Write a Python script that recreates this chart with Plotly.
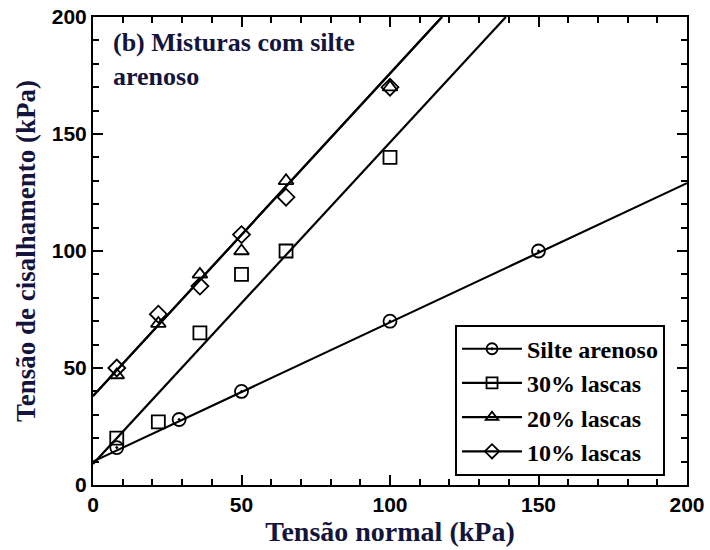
import plotly.graph_objects as go

# Data
silte_x = [8, 29, 50, 100, 150]
silte_y = [16, 28, 40, 70, 100]
l30_x = [8, 22, 36, 50, 65, 100]
l30_y = [20, 27, 65, 90, 100, 140]
l20_x = [8, 22, 36, 50, 65, 100]
l20_y = [47, 69, 90, 100, 130, 170]
l10_x = [8, 22, 36, 50, 65, 100]
l10_y = [50, 73, 85, 107, 123, 170]

# Fitted lines (end points)
fit_silte_x = [0, 200]
fit_silte_y = [10, 129]
fit_30_x = [0, 139]
fit_30_y = [9, 200]
fit_2010_x = [0, 117.5]
fit_2010_y = [38, 200]

series_names = ["Silte arenoso", "30% lascas", "20% lascas", "10% lascas"]
symbols = ["circle-open-dot", "square-open", "triangle-up-open", "diamond-open"]

fig = go.Figure()
line_style = dict(color="black", width=2.2)

series = [
    (silte_x, silte_y, fit_silte_x, fit_silte_y),
    (l30_x, l30_y, fit_30_x, fit_30_y),
    (l20_x, l20_y, fit_2010_x, fit_2010_y),
    (l10_x, l10_y, fit_2010_x, fit_2010_y),
]

for (xs, ys, fx, fy), sym, nm in zip(series, symbols, series_names):
    # fitted line (also provides the legend entry: line + symbol)
    fig.add_trace(go.Scatter(x=fx, y=fy, mode="lines+markers",
                             name="<b>" + nm + "</b>",
                             line=line_style,
                             marker=dict(symbol=sym, size=11, color="black",
                                         line=dict(width=1.8, color="black")),
                             selectedpoints=[],
                             unselected=dict(marker=dict(opacity=0)),
                             hoverinfo="skip"))
    # measured points
    fig.add_trace(go.Scatter(x=xs, y=ys, mode="markers", name=nm,
                             marker=dict(symbol=sym, size=13, color="black",
                                         line=dict(width=1.8, color="black")),
                             showlegend=False))

title_color = "#14143c"
tick_font = dict(family="Liberation Sans", size=21, color="black")

fig.update_xaxes(range=[0, 200], showline=True, linecolor="black", linewidth=2,
                 mirror="allticks", ticks="inside", ticklen=10, tickwidth=2,
                 tickcolor="black", dtick=50,
                 minor=dict(ticks="inside", ticklen=6, tickcolor="black", tickwidth=1.5, dtick=10),
                 showgrid=False, zeroline=False, tickfont=tick_font,
                 tickprefix="<b>", ticksuffix="</b>",
                 title=dict(text="<b>Tensão normal (kPa)</b>", standoff=4,
                            font=dict(family="Liberation Serif", size=28, color=title_color)))
fig.update_yaxes(range=[0, 200], showline=True, linecolor="black", linewidth=2,
                 mirror="allticks", ticks="inside", ticklen=10, tickwidth=2,
                 tickcolor="black", dtick=50,
                 minor=dict(ticks="inside", ticklen=6, tickcolor="black", tickwidth=1.5, dtick=10),
                 showgrid=False, zeroline=False, tickfont=tick_font,
                 tickprefix="<b>", ticksuffix="</b>",
                 title=dict(text="<b>Tensão de cisalhamento (kPa)</b>", standoff=8,
                            font=dict(family="Liberation Serif", size=27, color=title_color)))

fig.add_annotation(xref="paper", yref="paper", x=0.03, y=0.98, xanchor="left", yanchor="top",
                   align="left", showarrow=False,
                   text="<b>(b) Misturas com silte<br>arenoso</b>",
                   font=dict(family="Liberation Serif", size=26, color=title_color))

fig.update_layout(
    template="none",
    width=710, height=550,
    margin=dict(l=93, r=23, t=17, b=65),
    plot_bgcolor="white", paper_bgcolor="white",
    showlegend=True,
    legend=dict(x=0.963, y=0.02, xanchor="right", yanchor="bottom",
                bgcolor="white", bordercolor="black", borderwidth=2,
                font=dict(family="Liberation Serif", size=24, color="black"),
                tracegroupgap=0, itemwidth=60),
)

fig.write_html("out.html")
